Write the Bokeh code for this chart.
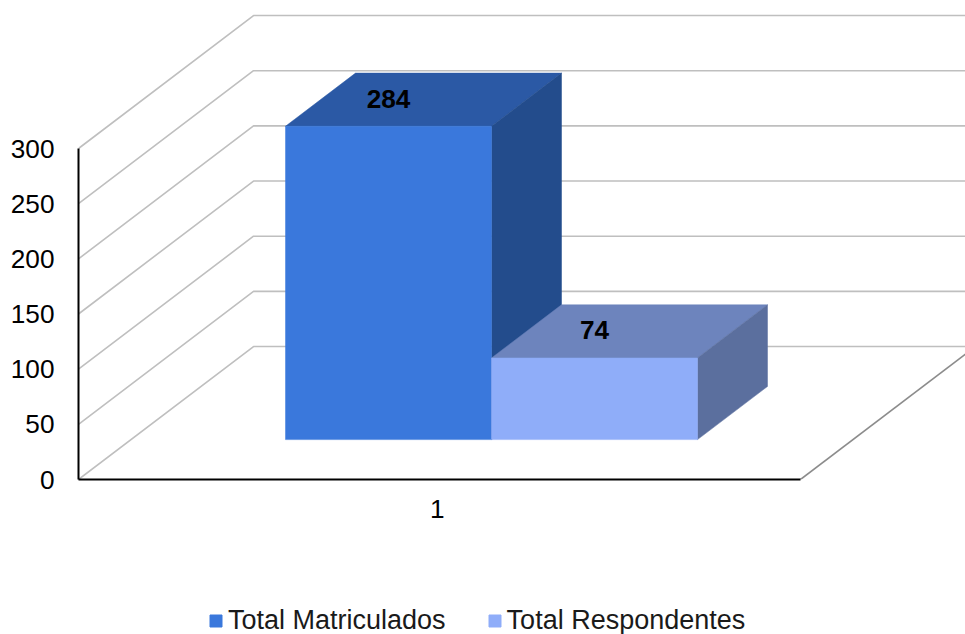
from bokeh.plotting import figure
from bokeh.embed import file_html
from bokeh.resources import INLINE
from bokeh.layouts import column
from bokeh.models import Range1d, Legend, LegendItem, FixedTicker, LinearAxis
from bokeh.core.properties import value

# ---- data ----
categories = ["1"]
series_names = ["Total Matriculados", "Total Respondentes"]
series_values = [284, 74]
y_ticks = [0, 50, 100, 150, 200, 250, 300]

# ---- colours ----
front_colors = ["#3A78DC", "#8FADF9"]
top_colors = ["#2B59A5", "#6D84BD"]
side_colors = ["#234C8C", "#5B6F9E"]
GRID = "#BFBFBF"
FONT = "Liberation Sans"
FS = "26.2px"
LEGEND_FS = "27px"

# ---- oblique 3D projection (x: category units, y: value units, z: 0..1 depth) ----
DEPTH_X = 0.2424
DEPTH_Y = 120.5
BAR_X0 = 0.2140
BAR_W = 0.2853
Z_FRONT, Z_BACK = 0.30, 0.70


def proj(x, y, z):
    return x + z * DEPTH_X, y + z * DEPTH_Y


W, H, LEGEND_H = 965, 596, 38
LEFT, BOTTOM = 78, 117
X_MAX = (W - LEFT) / 722
Y_MAX = (H - BOTTOM) / 1.1033

p = figure(width=W, height=H, output_backend="svg", toolbar_location=None,
           x_range=Range1d(0, X_MAX), y_range=Range1d(0, Y_MAX),
           x_axis_location=None, y_axis_location=None,
           min_border_left=LEFT, min_border_bottom=BOTTOM, min_border_top=0, min_border_right=0)
p.outline_line_color = None
p.xgrid.visible = False
p.ygrid.visible = False
p.background_fill_color = "white"
p.border_fill_color = "white"

# walls: side-wall diagonals and back-wall horizontal lines
wall_xs, wall_ys = [], []
for t in y_ticks:
    x0, y0 = proj(0, t, 0)
    x1, y1 = proj(0, t, 1)
    x2, y2 = proj(1, t, 1)
    wall_xs.append([x0, x1, x2])
    wall_ys.append([y0, y1, y2])
p.multi_line(wall_xs, wall_ys, line_color=GRID, line_width=1.6)

# right edge of the floor
fx0, fy0 = proj(1, 0, 0)
fx1, fy1 = proj(1, 0, 1)
p.line([fx0, fx1], [fy0, fy1], line_color="#8C8C8C", line_width=1.6)

# bars
for i, v in enumerate(series_values):
    x0 = BAR_X0 + i * BAR_W
    x1 = x0 + BAR_W
    corners_top = [proj(x0, v, Z_FRONT), proj(x1, v, Z_FRONT), proj(x1, v, Z_BACK), proj(x0, v, Z_BACK)]
    corners_side = [proj(x1, 0, Z_FRONT), proj(x1, 0, Z_BACK), proj(x1, v, Z_BACK), proj(x1, v, Z_FRONT)]
    p.patch([c[0] for c in corners_top], [c[1] for c in corners_top],
            fill_color=top_colors[i], line_color=top_colors[i], line_width=0.5)
    p.patch([c[0] for c in corners_side], [c[1] for c in corners_side],
            fill_color=side_colors[i], line_color=side_colors[i], line_width=0.5)
    lx, by = proj(x0, 0, Z_FRONT)
    rx, ty = proj(x1, v, Z_FRONT)
    p.quad(left=[lx], right=[rx], bottom=[by], top=[ty],
           fill_color=front_colors[i], line_color=front_colors[i], line_width=0.5)
    # data label: front-face centre horizontally, middle of the top face vertically
    label_x = lx + (rx - lx) / 2
    label_y = proj(x0, v, (Z_FRONT + Z_BACK) / 2)[1] + 1
    p.text([label_x], [label_y], text=[str(v)], text_font=value(FONT), text_font_size=value(FS),
           text_font_style="bold", text_color="black", text_align="center", text_baseline="middle")

# axes
yax = LinearAxis(ticker=FixedTicker(ticks=y_ticks), bounds=(0, 300))
yax.axis_line_color = "black"
yax.axis_line_width = 2
yax.major_tick_line_color = None
yax.minor_tick_line_color = None
yax.major_tick_in = 0
yax.major_tick_out = 0
yax.major_label_standoff = 24
yax.major_label_text_font = FONT
yax.major_label_text_font_size = FS
yax.major_label_text_color = "black"
p.add_layout(yax, "left")

xax = LinearAxis(ticker=FixedTicker(ticks=[0.497]), bounds=(0, 1),
                 major_label_overrides={0.497: categories[0]})
xax.axis_line_color = "black"
xax.axis_line_width = 2
xax.major_tick_line_color = None
xax.minor_tick_line_color = None
xax.major_tick_in = 0
xax.major_tick_out = 0
xax.major_label_standoff = 20
xax.major_label_text_font = FONT
xax.major_label_text_font_size = FS
xax.major_label_text_color = "black"
p.add_layout(xax, "below")

# legend: its own strip under the chart, so it is not clipped by the chart's frame
q = figure(width=W, height=LEGEND_H, output_backend="svg", toolbar_location=None,
           x_range=Range1d(0, 1), y_range=Range1d(0, 1),
           x_axis_location=None, y_axis_location=None,
           min_border_left=0, min_border_bottom=0, min_border_top=0, min_border_right=0)
q.outline_line_color = None
q.xgrid.visible = False
q.ygrid.visible = False
q.border_fill_color = "white"
# the strip's range (0..1) leaves these keys out of view; only their swatches show
legend_renderers = [q.quad(left=[v], right=[v], bottom=[v], top=[v], fill_color=c, line_color=c)
                    for v, c in zip(series_values, front_colors)]
legend = Legend(items=[LegendItem(label=n, renderers=[r]) for n, r in zip(series_names, legend_renderers)],
                orientation="horizontal", location=(130, -2),
                glyph_width=15, glyph_height=15, label_standoff=5, spacing=41,
                padding=0, margin=0, border_line_color=None, background_fill_alpha=0,
                label_text_font=FONT, label_text_font_size=LEGEND_FS, label_text_color="#1A1A1A")
q.add_layout(legend, "center")

page = column(p, q, spacing=0)
open("out.html", "w").write(file_html(page, INLINE))
